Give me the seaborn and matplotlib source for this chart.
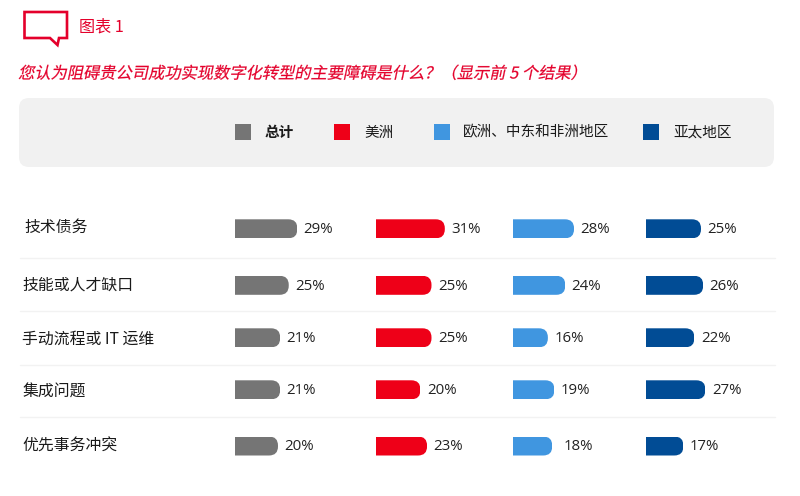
import matplotlib
matplotlib.use("Agg")
import matplotlib.pyplot as plt
import matplotlib.patheffects as pe
from matplotlib.patches import FancyBboxPatch, Rectangle, PathPatch
from matplotlib.path import Path
from matplotlib.transforms import Affine2D, IdentityTransform
import seaborn as sns

sns.set_theme(style="white")
FONT = ["Noto Sans CJK SC", "DejaVu Sans"]
plt.rcParams["font.family"] = FONT

categories = ["技术债务", "技能或人才缺口", "手动流程或 IT 运维", "集成问题", "优先事务冲突"]
series_names = ["总计", "美洲", "欧洲、中东和非洲地区", "亚太地区"]
total = [29, 25, 21, 21, 20]
americas = [31, 25, 25, 20, 23]
emea = [28, 24, 16, 19, 18]
apac = [25, 26, 22, 27, 17]

title = "您认为阻碍贵公司成功实现数字化转型的主要障碍是什么？（显示前 5 个结果）"
chart_label = "图表 1"

RED = "#E4002B"
colors = ["#757575", "#EE0018", "#4096E0", "#014C95"]
row_y = [228.8, 285.3, 337.8, 389.8, 446]
label_y = [227, 285.5, 339.5, 392.5, 446.5]
label_x = [24.5, 22.5, 22.5, 22.5, 22.5]
sep_y = [258, 311, 365, 416.5]
panel_x = [235, 376, 513, 646]
panel_scale = [2.15, 2.22, 2.18, 2.2]
legend_x = [235, 334, 434, 643]
legend_text_x = [265, 364, 463, 673]
BAR_H = 19
RADIUS = 9

fig = plt.figure(figsize=(8, 4.96), dpi=100, facecolor="white")

# Pixel-space background layer
bg = fig.add_axes([0, 0, 1, 1], zorder=0)
bg.set_xlim(0, 800)
bg.set_ylim(496, 0)
bg.set_axis_off()


class Skew(pe.AbstractPathEffect):
    """Slants the upright CJK glyphs and thickens them slightly."""

    def draw_path(self, renderer, gc, tpath, affine, rgbFace=None):
        gc0 = renderer.new_gc()
        gc0.copy_properties(gc)
        gc0.set_linewidth(0.15)
        gc0.set_foreground(rgbFace)
        renderer.draw_path(gc0, tpath, Affine2D().skew_deg(12, 0) + affine, rgbFace)
        gc0.restore()


# speech bubble icon
bubble = Path(
    [(24.5, 12), (67, 12), (67, 38), (59, 38), (57.5, 45), (50, 38), (24.5, 38), (24.5, 12)],
    closed=True,
)
bg.add_patch(PathPatch(bubble, fill=False, edgecolor=RED, lw=1.9, joinstyle="miter"))
bg.text(79, 27, chart_label, color=RED, fontsize=11.6, va="center", ha="left")
bg.text(18, 74, title, color=RED, fontsize=11.7, va="center", ha="left",
        fontweight="medium", path_effects=[Skew()])

# legend panel
bg.add_patch(FancyBboxPatch((29, 108), 735, 49, boxstyle="round,pad=10,rounding_size=10",
                            fc="#F1F1F1", ec="none"))
for i, name in enumerate(series_names):
    bg.add_patch(Rectangle((legend_x[i], 124), 16, 16, fc=colors[i], ec="none"))
    bg.text(legend_text_x[i], 132.5, name, fontsize=10.5, color="#1a1a1a", va="center", ha="left",
            fontweight="bold" if i == 0 else "normal")

for y in sep_y:
    bg.plot([20, 775], [y, y], color="#F2F2F2", lw=1)
for c, x, y in zip(categories, label_x, label_y):
    bg.text(x, y, c, fontsize=11.4, color="#1a1a1a", va="center", ha="left")

# Bars
all_values = [total, americas, emea, apac]
extra_gap = {(2, 4): 3.5}
axes = []
for i, vals in enumerate(all_values):
    w = 150
    ax = fig.add_axes([panel_x[i] / 800, 0, w / 800, 1], zorder=1)
    sns.barplot(x=vals, y=row_y, orient="h", native_scale=True, color=colors[i], saturation=1,
                width=BAR_H / 52, linewidth=0, ax=ax)
    ax.set_xlim(0, w / panel_scale[i])
    ax.set_ylim(496, 0)
    ax.set_axis_off()
    for j, (v, y) in enumerate(zip(vals, row_y)):
        ax.annotate(f"{v}%", xy=(v, y), xytext=(4.6 + extra_gap.get((i, j), 0), -0.7),
                    textcoords="offset points", va="center", ha="left",
                    fontsize=10.8, color="#222222", family=["Open Sans", "DejaVu Sans"])
    axes.append(ax)

fig.canvas.draw()
for ax in axes:
    for bar in ax.patches:
        b = bar.get_window_extent()
        x0, x1, y0, y1 = b.x0, b.x1, b.y0, b.y1
        r = min(RADIUS, (y1 - y0) / 2)
        verts = [(x0, y0), (x1 - r, y0), (x1, y0), (x1, y0 + r), (x1, y1 - r), (x1, y1),
                 (x1 - r, y1), (x0, y1), (x0, y0)]
        codes = [Path.MOVETO, Path.LINETO, Path.CURVE3, Path.CURVE3, Path.LINETO, Path.CURVE3,
                 Path.CURVE3, Path.LINETO, Path.CLOSEPOLY]
        bar.set_clip_path(Path(verts, codes), IdentityTransform())

fig.savefig("out.png", dpi=100, facecolor="white")
